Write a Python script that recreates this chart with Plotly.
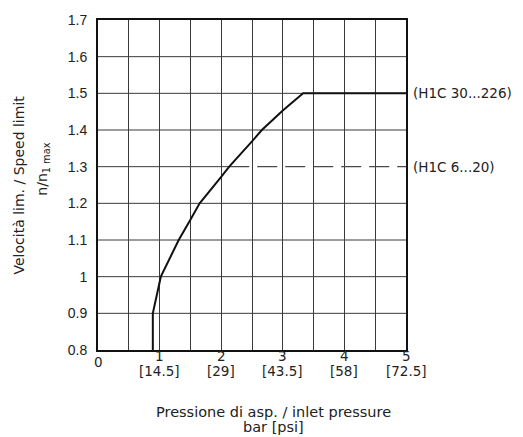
import plotly.graph_objects as go

# Data
curve_x = [0.89, 0.89, 1.02, 1.31, 1.50, 1.65, 2.00, 2.13, 2.50, 2.66, 3.00, 3.33, 5.0]
curve_y = [0.80, 0.90, 1.00, 1.10, 1.155, 1.20, 1.272, 1.30, 1.369, 1.40, 1.453, 1.50, 1.50]
dash_x = [2.13, 5.0]
dash_y = [1.3, 1.3]
series_labels = ["(H1C 30...226)", "(H1C 6...20)"]
series_label_y = [1.5, 1.3]
x_tick_vals = [0, 1, 2, 3, 4, 5]
x_tick_bar = ["0", "1", "2", "3", "4", "5"]
x_tick_psi = ["", "[14.5]", "[29]", "[43.5]", "[58]", "[72.5]"]
y_tick_vals = [0.8, 0.9, 1.0, 1.1, 1.2, 1.3, 1.4, 1.5, 1.6, 1.7]
y_tick_text = ["0.8", "0.9", "1", "1.1", "1.2", "1.3", "1.4", "1.5", "1.6", "1.7"]
x_range = [0, 5]
y_range = [0.8, 1.7]

FONT = "DejaVu Sans"
TFONT = "Liberation Sans"
TXT = "#222222"
GRID = "#3a3a3a"
fig = go.Figure()
fig.add_trace(go.Scatter(x=dash_x, y=dash_y, mode="lines",
                         line=dict(color="#4a4a4a", width=1.3, dash="20px,8px"), showlegend=False, hoverinfo="skip"))
fig.add_trace(go.Scatter(x=curve_x, y=curve_y, mode="lines",
                         line=dict(color="#111111", width=2), showlegend=False, hoverinfo="skip"))

# horizontal grid lines (the 1.3 line stops where the dashed limit line begins)
shapes = []
for v in y_tick_vals[1:-1]:
    x_end = dash_x[0] if abs(v - dash_y[0]) < 1e-9 else x_range[1]
    shapes.append(dict(type="line", xref="x", yref="y", x0=x_range[0], x1=x_end, y0=v, y1=v,
                       line=dict(color=GRID, width=1), layer="below"))

W, H = 523, 437
ml, mr, mt, mb = 97.5, 117, 16, 87
ph = H - mt - mb

def py(pix):
    return (H - mb - pix) / ph

ann = []
for v, b, p in zip(x_tick_vals, x_tick_bar, x_tick_psi):
    ann.append(dict(x=v, y=0, xref="x", yref="paper", text=b, showarrow=False,
                    yanchor="middle", yshift=-(6 if v else 12), font=dict(size=13.5, color=TXT, family=FONT)))
    if p:
        ann.append(dict(x=v, y=0, xref="x", yref="paper", text=p, showarrow=False,
                        yanchor="middle", yshift=-21, font=dict(size=13.5, color=TXT, family=FONT)))
for t, yv in zip(series_labels, series_label_y):
    ann.append(dict(x=1, y=yv, xref="paper", yref="y", text=t, showarrow=False,
                    xanchor="left", yanchor="middle", xshift=5, font=dict(size=13.5, color=TXT, family=FONT)))
ann.append(dict(x=0, y=py(183), xref="paper", yref="paper", text="Velocità lim. / Speed limit",
                textangle=-90, showarrow=False, xanchor="center", yanchor="middle", xshift=-(ml - 18),
                font=dict(size=14, color=TXT, family=FONT)))
ann.append(dict(x=0, y=py(167), xref="paper", yref="paper", text="n/n<sub>1 max</sub>",
                textangle=-90, showarrow=False, xanchor="center", yanchor="middle", xshift=-(ml - 43),
                font=dict(size=14, color=TXT, family=FONT)))
ann.append(dict(x=0, y=py(413), xref="paper", yref="paper", text="Pressione di asp. / inlet pressure",
                showarrow=False, xanchor="center", yanchor="middle", xshift=273 - ml,
                font=dict(size=14.5, color=TXT, family=FONT)))
ann.append(dict(x=0, y=py(428), xref="paper", yref="paper", text="bar [psi]",
                showarrow=False, xanchor="center", yanchor="middle", xshift=273 - ml,
                font=dict(size=14.5, color=TXT, family=FONT)))

fig.update_layout(
    width=W, height=H,
    margin=dict(l=ml, r=mr, t=mt, b=mb, pad=0),
    paper_bgcolor="white", plot_bgcolor="white",
    font=dict(family=FONT, size=14, color=TXT),
    annotations=ann,
    shapes=shapes,
    xaxis=dict(range=x_range, dtick=0.5, tick0=0, showticklabels=False, showgrid=True,
               gridcolor=GRID, gridwidth=1, zeroline=False,
               showline=True, linecolor="#111111", linewidth=2, mirror=True, ticks=""),
    yaxis=dict(range=y_range, tickvals=y_tick_vals, ticktext=y_tick_text, showgrid=False,
               zeroline=False,
               showline=True, linecolor="#111111", linewidth=2, mirror=True, ticks="outside",
               ticklen=6, tickcolor="rgba(0,0,0,0)", tickfont=dict(size=14, color=TXT, family=TFONT)),
)
fig.write_html("out.html", config={"displayModeBar": False},
               post_script="document.body.style.margin='0';document.body.style.overflow='hidden';")
